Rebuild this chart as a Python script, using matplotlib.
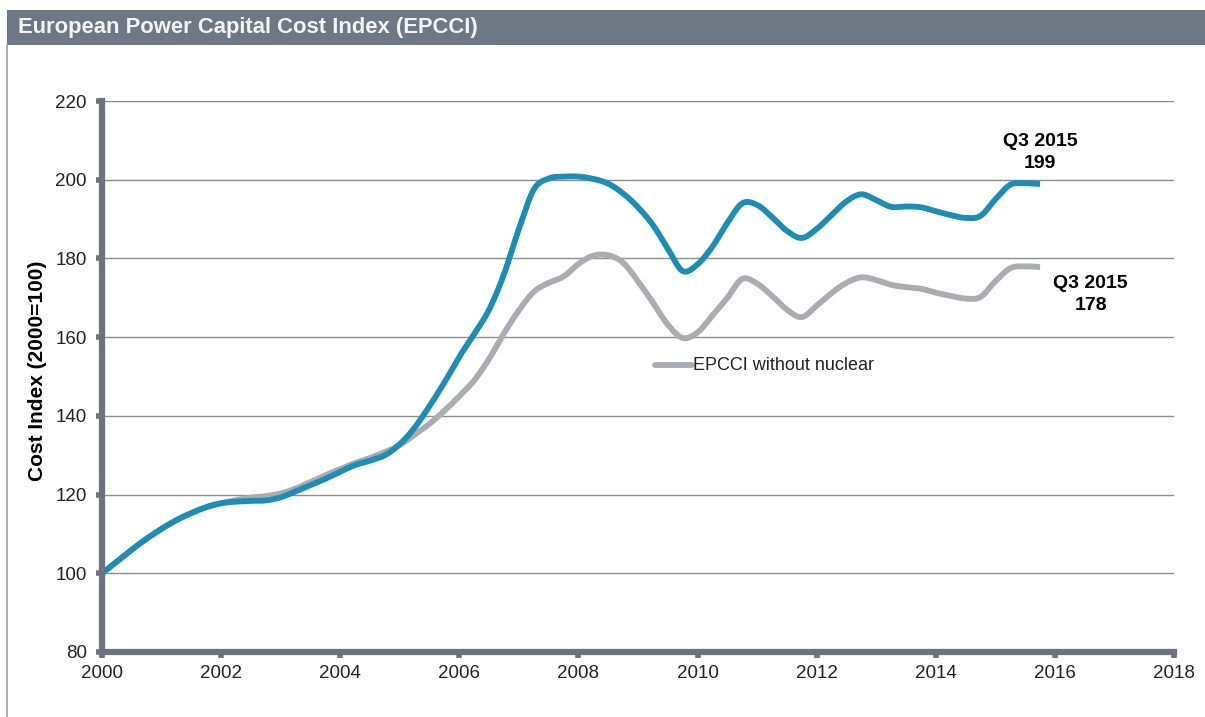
import numpy as np
import matplotlib
matplotlib.use("Agg")
import matplotlib.pyplot as plt
from matplotlib.patches import Rectangle
from matplotlib.lines import Line2D

plt.rcParams['font.family'] = ['Liberation Sans', 'DejaVu Sans']

# quarterly index values, Q1 2000 .. Q4 2015 (2000 = 100)
years = np.arange(2000.0, 2016.0, 0.25)
epcci = [100, 103, 106, 108.8, 111.3, 113.5, 115.3, 116.8,
         117.8, 118.2, 118.4, 118.5, 119.3, 120.8, 122.4, 124.0,
         125.8, 127.5, 128.6, 130.0, 132.8, 137.0, 142.5, 148.5,
         155.0, 160.8, 167.0, 176.0, 187.5, 197.5, 200.3, 200.8,
         200.8, 200.2, 199.0, 196.5, 193.0, 188.5, 182.5, 176.8,
         178.5, 183.0, 189.0, 194.0, 193.6, 190.5, 187.0, 185.2,
         187.5, 191.0, 194.5, 196.3, 194.8, 193.1, 193.2, 193.0,
         192.0, 191.0, 190.3, 190.8, 195.0, 198.7, 199.1, 198.9]
epcci_no_nuclear = [100, 103, 106, 108.8, 111.3, 113.5, 115.3, 116.8,
                    117.8, 118.6, 119.2, 119.6, 120.3, 121.5, 123.2, 124.9,
                    126.5, 128.0, 129.3, 130.8, 132.6, 135.2, 138.0, 141.3,
                    145.0, 149.0, 154.5, 161.0, 166.8, 171.5, 173.8, 175.4,
                    178.6, 180.7, 180.8, 178.9, 174.2, 168.8, 163.2, 159.8,
                    161.2, 165.5, 170.0, 174.8, 173.6, 170.5, 167.0, 165.1,
                    168.0, 171.2, 173.8, 175.2, 174.5, 173.3, 172.7, 172.3,
                    171.3, 170.5, 169.8, 170.2, 174.2, 177.5, 178.0, 177.8]
last_label = "Q3 2015"
x_ticks = np.arange(2000, 2019, 2)
y_ticks = np.arange(80, 221, 20)

BLUE = "#1c8db5"
GREY_LINE = "#a9acb1"
AXIS = "#6c737e"
GRID = "#8e8e8e"


def smooth(x, y, n=12):
    # Catmull-Rom curve through the points, like a "smoothed line" chart
    x = np.asarray(x, float)
    y = np.asarray(y, float)
    res = []
    t = np.linspace(0, 1, n, endpoint=False)[:, None]
    for p in (x, y):
        p = np.concatenate([[2 * p[0] - p[1]], p, [2 * p[-1] - p[-2]]])
        p0, p1, p2, p3 = p[:-3], p[1:-2], p[2:-1], p[3:]
        seg = 0.5 * ((2 * p1) + (-p0 + p2) * t + (2 * p0 - 5 * p1 + 4 * p2 - p3) * t ** 2
                     + (-p0 + 3 * p1 - 3 * p2 + p3) * t ** 3)
        res.append(np.concatenate([seg.T.ravel(), [p[-2]]]))
    return res[0], res[1]


fig = plt.figure(figsize=(12.05, 7.17), dpi=100)
fig.patch.set_facecolor("white")

# header band and left frame line
fig.add_artist(Rectangle((7 / 1205, 1 - 45 / 717), 1, 35 / 717, transform=fig.transFigure,
                         facecolor="#6e7884", edgecolor="none"))
fig.add_artist(Line2D([7.5 / 1205, 7.5 / 1205], [0, 1 - 45 / 717], transform=fig.transFigure,
                      color="#a0a0a0", lw=1.2))
fig.text(18 / 1205, 1 - 28 / 717, "European Power Capital Cost Index (EPCCI)",
         color="#f4f4f4", fontsize=15.8, fontweight="bold", va="center", ha="left")

ax = fig.add_axes([102 / 1205, 65 / 717, 1072 / 1205, 551 / 717])
ax.set_xlim(2000, 2018)
ax.set_ylim(80, 220)

for v in y_ticks[1:]:
    ax.axhline(v, color=GRID, lw=1.0, zorder=1)

sx, sy = smooth(years, epcci_no_nuclear)
ax.plot(sx, sy, color=GREY_LINE, lw=4.2, solid_capstyle="butt", zorder=3)
sx, sy = smooth(years, epcci)
ax.plot(sx, sy, color=BLUE, lw=4.2, solid_capstyle="butt", zorder=4)

for s in ("top", "right"):
    ax.spines[s].set_visible(False)
for s in ("left", "bottom"):
    ax.spines[s].set_color(AXIS)
    ax.spines[s].set_linewidth(4.5)
    ax.spines[s].set_zorder(5)

ax.set_xticks(x_ticks)
ax.set_yticks(y_ticks)
ax.tick_params(axis="both", colors=AXIS, length=4, width=4, labelsize=13.5,
               labelcolor="#222222")
ax.tick_params(axis="y", pad=7)
ax.tick_params(axis="x", pad=5)
ax.set_ylabel("Cost Index (2000=100)", fontsize=15, fontweight="bold")
ax.yaxis.set_label_coords(-0.051, 0.51)

# end-of-series value labels
ax.text(2015.75, epcci[-2] + 2.8, f"{last_label}\n{epcci[-2]:.0f}", ha="center", va="bottom",
        fontsize=14, fontweight="bold", linespacing=1.4)
ax.text(2016.6, epcci_no_nuclear[-2] - 2.2, f"{last_label}\n{epcci_no_nuclear[-2]:.0f}",
        ha="center", va="top", fontsize=14, fontweight="bold", linespacing=1.4)

# inline legend for the grey series
ax.plot([2009.28, 2009.9], [152.9, 152.9], color=GREY_LINE, lw=4.2, solid_capstyle="round")
ax.text(2009.93, 152.9, "EPCCI without nuclear", fontsize=13, va="center", ha="left",
        color="#222222")

fig.savefig("out.png", dpi=100)
